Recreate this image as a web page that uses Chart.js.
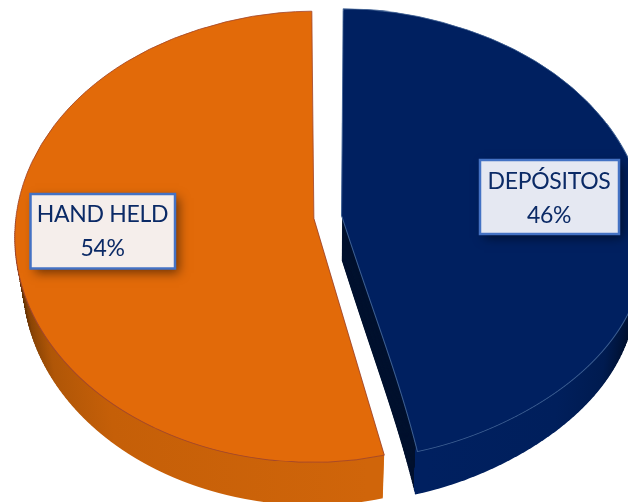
<!DOCTYPE html>
<html><head><meta charset="utf-8">
<style>html,body{margin:0;padding:0;background:#fff}canvas{display:block}</style>
<script src="https://cdn.jsdelivr.net/npm/chart.js@4"></script>
</head><body><canvas id="c" width="628" height="502"></canvas>
<script>
const categories = ["DEPÓSITOS", "HAND HELD"];
const shares = [46, 54];
const faceColors = ["#002060", "#E26A09"];
const edgeColors = ["#3C5F92", "#A2472C"];

const P = {cx:327.5, cy:217, rxBlue:305, rxOrange:299, ryTop:207, ryBot:244, depth:43, shrink:0.025, ellY:19, ellR:225, band:2};
const boxes = [
  {x:480,y:160,w:139,h:74,fill:"#E5E8F2",tx:549,l1:182,l2:216},
  {x:30.5,y:194,w:144.5,h:74.5,fill:"#F5EEEB",tx:102.5,l1:215,l2:249}
];

// width corrections of a row, dy pixels from the pie's apex (perspective of the tilted disc)
function fitOutline(dy){
  const flat = Math.sqrt(Math.max(1-Math.pow(dy/(dy<0?P.ryTop:P.ryBot),2),1e-4));
  const persp = Math.sqrt(Math.max(1-Math.pow((dy-P.ellY)/P.ellR,2),1e-4));
  const r = persp/flat;
  return dy<0 ? Math.max(r,0.93) : Math.min(r,1.05);
}
function smoothFit(dy){
  if(dy<0) return fitOutline(dy);
  const d=Math.min(dy,240);
  return 1+0.034*Math.sin(Math.PI*Math.pow(d/240,1.3))-0.025*Math.pow(d/238,3);
}
const straightFit = dy => dy<0 ? fitOutline(dy) : 0.975;

const pie3d = {
  id:'pie3d',
  beforeDatasetsDraw(chart){
    const ctx = chart.ctx, arcs = chart.getDatasetMeta(0).data;
    const blue = arcs[0], orange = arcs[1];
    const rxOf = a => a===blue?P.rxBlue:P.rxOrange;
    const off = a => { const o=(a.options.offset||0)/4, m=(a.startAngle+a.endAngle)/2; return {x:o*Math.cos(m),y:o*Math.sin(m)}; };
    const eff = a => { const o=(a.options.offset||0)/4, fix=1-Math.sin(Math.min(Math.PI,a.circumference||0)); return a.outerRadius+o*fix; };
    const sxOf = (a,t) => rxOf(a)*(1-P.shrink*t)/eff(a);
    const apexX = (a,t) => P.cx+sxOf(a,t)*off(a).x;
    const cornerX = (a,ang,t,rf) => Math.round(apexX(a,t)+sxOf(a,t)*rf(P.ryBot*Math.sin(ang))*eff(a)*Math.cos(ang));
    const draw = (a,y0,y1,t,rf,over,clipX) => {
      const R=eff(a), dy=Math.round(P.depth*t), apexY=P.cy+dy;
      const top = y0<P.cy && t===0;
      const yA = Math.max(y0, top?0:apexY);
      if(y1<=yA) return;
      const r = rf((yA+y1)/2-apexY);
      const sx = sxOf(a,t), sy=(top?P.ryTop:P.ryBot)/R;
      const ox = off(a).x;
      ctx.save();
      ctx.beginPath();
      const x0 = clipX?clipX[0]:0, x1 = clipX?clipX[1]:628;
      if(x1<=x0){ctx.restore();return;}
      ctx.rect(x0,yA,x1-x0,y1-yA);
      ctx.clip();
      ctx.translate(apexX(a,t),apexY);
      ctx.scale(sx*r,sy);
      ctx.translate(-ox,0);
      ctx.translate(-a.x,-a.y);
      const orig = a.options;
      a.options = Object.assign(Object.create(orig),over||{});
      a.draw(ctx);
      a.options = orig;
      ctx.restore();
    };
    const toSrc = (a,X) => a.x + (X-P.cx)*eff(a)/rxOf(a);
    const grad = (a,stops) => {
      const g = ctx.createLinearGradient(toSrc(a,stops[0][0]),0,toSrc(a,stops[stops.length-1][0]),0);
      const s=stops[0][0], e=stops[stops.length-1][0];
      stops.forEach(p=>g.addColorStop((p[0]-s)/(e-s),p[1]));
      return g;
    };
    const gO = grad(orange,[[22,"#1E0E00"],[32,"#4A2402"],[46,"#8A4405"],[70,"#B05607"],[130,"#C55F08"],[384,"#D0650A"]]);
    const gB = grad(blue,[[414,"#002060"],[540,"#001F5C"],[585,"#001B50"],[612,"#00102F"],[640,"#000A20"]]);
    const B=P.band*2;
    for(let i=P.depth;i>=1;i--){
      const t=i/P.depth;
      const bx=cornerX(blue,blue.endAngle,t,smoothFit), ox=cornerX(orange,orange.startAngle,t,straightFit);
      const ax=Math.round(apexX(orange,t));
      for(let y=P.cy;y<502;y+=B){
        draw(blue,y,y+B,t,smoothFit,{backgroundColor:"#00122F",borderWidth:0},[0,bx]);
        draw(blue,y,y+B,t,smoothFit,{backgroundColor:gB,borderWidth:0},[bx,628]);
        draw(orange,y,y+B,t,fitOutline,{backgroundColor:gO,borderWidth:0},[0,ax]);
        draw(orange,y,y+B,t,straightFit,{backgroundColor:gO,borderWidth:0},[ax,ox]);
      }
    }
    const ax0=Math.round(apexX(orange,0));
    for(let y=P.cy-P.band;y>-P.band;y-=P.band){
      draw(blue,y,y+P.band,0,fitOutline);
      draw(orange,y,y+P.band,0,fitOutline);
    }
    for(let y=P.cy;y<502;y+=P.band){
      draw(blue,y,y+P.band,0,smoothFit);
      draw(orange,y,y+P.band,0,fitOutline,null,[0,ax0]);
      draw(orange,y,y+P.band,0,straightFit,null,[ax0,628]);
    }
    return false;
  },
  afterDraw(chart){
    const ctx = chart.ctx;
    boxes.forEach((b,i)=>{
      ctx.save();
      ctx.shadowColor="rgba(0,0,0,0.5)";ctx.shadowBlur=10;ctx.shadowOffsetX=4;ctx.shadowOffsetY=4;
      ctx.fillStyle=b.fill;ctx.fillRect(b.x,b.y,b.w,b.h);
      ctx.restore();
      ctx.strokeStyle="#4472C4";ctx.lineWidth=2.5;ctx.strokeRect(b.x,b.y,b.w,b.h);
      ctx.fillStyle="#0B2A66";
      ctx.font='23px Lato';
      ctx.letterSpacing='-0.3px';
      ctx.textAlign='center';ctx.textBaseline='middle';
      ctx.fillText(categories[i],b.tx,b.l1);
      ctx.fillText(shares[i]+'%',b.tx,b.l2);
    });
  }
};

new Chart(document.getElementById('c'),{
  type:'pie',
  data:{labels:categories,datasets:[{data:shares,backgroundColor:faceColors,borderColor:edgeColors,borderWidth:0.8,offset:44}]},
  options:{responsive:false,devicePixelRatio:1,animation:false,
    plugins:{legend:{display:false},tooltip:{enabled:false}},layout:{padding:0}},
  plugins:[pie3d]
});
</script></body></html>
